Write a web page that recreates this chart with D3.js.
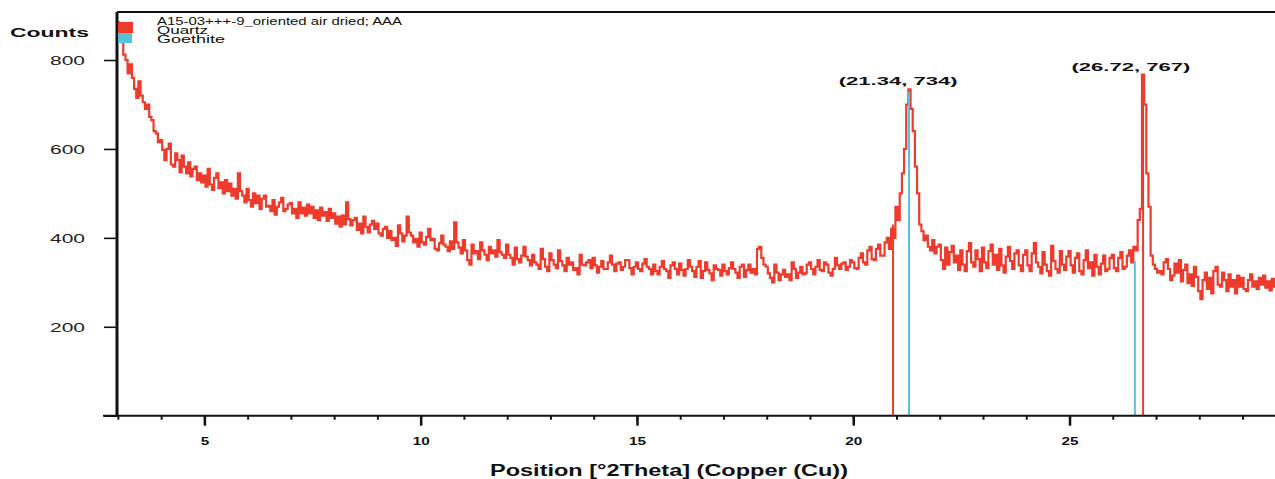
<!DOCTYPE html>
<html>
<head>
<meta charset="utf-8">
<script src="https://cdn.jsdelivr.net/npm/d3@7"></script>
<style>
  html, body { margin: 0; padding: 0; background: #fff; }
  svg { display: block; }
  text { font-family: "Liberation Sans", Arial, sans-serif; fill: #111; }
</style>
</head>
<body>
<svg id="chart" width="1275" height="479"></svg>
<script>
// ---------- data ----------
const startAngle = 3.0;      // first scan position (°2Theta)
const stepAngle = 0.05;      // scan step (°2Theta)
const counts = [
  885, 860, 840, 812, 800, 770, 790, 760, 735, 715, 752, 720, 705, 690, 700, 672, 665, 640, 635, 615,
  620, 598, 575, 600, 612, 565, 560, 590, 575, 548, 585, 560, 545, 570, 538, 555, 560, 530, 545, 525,
  540, 515, 555, 520, 508, 535, 545, 512, 525, 500, 530, 505, 522, 495, 510, 488, 545, 505, 495, 480,
  510, 485, 470, 500, 478, 495, 465, 488, 495, 470, 472, 460, 485, 452, 470, 480, 490, 460, 465, 475,
  478, 455, 465, 445, 480, 455, 468, 450, 475, 455, 470, 445, 462, 440, 468, 450, 458, 438, 465, 445,
  455, 432, 448, 425, 450, 430, 480, 442, 428, 440, 445, 418, 432, 410, 448, 425, 412, 430, 438, 420,
  432, 410, 405, 420, 425, 400, 415, 395, 400, 382, 428, 410, 392, 405, 448, 412, 405, 390, 398, 380,
  412, 390, 385, 402, 420, 395, 398, 375, 372, 388, 405, 385, 380, 370, 392, 375, 435, 390, 378, 365,
  395, 372, 350, 340, 385, 365, 370, 352, 390, 372, 362, 350, 380, 365, 372, 358, 395, 368, 362, 355,
  385, 362, 355, 340, 378, 352, 345, 360, 380, 358, 350, 338, 362, 345, 340, 330, 375, 352, 335, 325,
  365, 350, 340, 332, 372, 348, 338, 325, 355, 340, 345, 328, 332, 318, 362, 340, 338, 345, 350, 332,
  355, 338, 322, 335, 348, 330, 330, 345, 360, 340, 325, 342, 345, 328, 335, 350, 350, 332, 318, 335,
  345, 330, 325, 342, 352, 335, 330, 318, 340, 325, 318, 335, 348, 330, 325, 310, 338, 345, 330, 318,
  342, 328, 315, 330, 350, 335, 325, 312, 335, 348, 310, 325, 345, 328, 320, 305, 338, 330, 328, 315,
  340, 325, 318, 332, 345, 330, 322, 310, 335, 340, 312, 328, 340, 322, 330, 318, 375, 380, 355, 340,
  335, 320, 310, 300, 340, 322, 305, 318, 328, 312, 318, 305, 345, 330, 310, 322, 335, 318, 320, 340,
  345, 330, 318, 335, 350, 328, 325, 345, 340, 322, 315, 330, 355, 338, 330, 342, 345, 328, 335, 350,
  345, 332, 330, 355, 365, 345, 340, 372, 380, 352, 350, 375, 385, 360, 360, 390, 400, 375, 420, 400,
  470, 440, 500, 545, 600, 700, 734, 690, 640, 560, 500, 430, 415, 395, 405, 380, 372, 395, 365, 380,
  385, 350, 330, 378, 340, 368, 382, 345, 360, 328, 372, 340, 325, 370, 388, 345, 335, 372, 352, 325,
  378, 345, 332, 370, 385, 340, 362, 328, 375, 338, 322, 358, 380, 348, 330, 365, 372, 338, 325, 362,
  372, 338, 325, 365, 388, 345, 335, 320, 368, 340, 325, 315, 382, 348, 330, 322, 370, 340, 328, 358,
  370, 338, 322, 355, 365, 325, 318, 350, 372, 332, 345, 315, 362, 335, 318, 342, 360, 325, 330, 355,
  362, 332, 325, 355, 368, 330, 335, 360, 372, 345, 380, 372, 440, 465, 767, 700, 545, 470, 360, 340,
  330, 322, 325, 318, 345, 352, 330, 305, 315, 342, 322, 350, 302, 328, 340, 298, 318, 292, 335, 312,
  280, 262, 305, 322, 285, 310, 275, 325, 335, 295, 290, 322, 305, 280, 318, 290, 305, 275, 315, 290,
  310, 285, 280, 305, 318, 290, 302, 285, 310, 295, 315, 288, 302, 282, 308, 290, 275, 262, 292, 280
];

// reference patterns (stick lines)
const quartzAngles = [20.92, 26.70];
const quartzCounts = [430, 767];
const goethiteAngles = [21.29, 26.51];
const goethiteCounts = [729, 348];

// peak annotations
const peakAngles = [21.34, 26.72];
const peakCounts = [734, 767];
const peakLabels = ["(21.34, 734)", "(26.72, 767)"];

// axes
const xTicks = [5, 10, 15, 20, 25];
const xMinorTicks = [3,4,5,6,7,8,9,10,11,12,13,14,15,16,17,18,19,20,21,22,23,24,25,26,27,28,29];
const yTicks = [0, 200, 400, 600, 800];
const xTitle = "Position [°2Theta] (Copper (Cu))";
const yTitle = "Counts";
const legendNames = ["A15-03+++-9_oriented air dried; AAA", "Quartz", "Goethite"];
const legendColors = ["#ee3b2b", "#ee3b2b", "#55c2d6"];

(function () {
// ---------- layout ----------
const svg = d3.select("#chart");
const pL = 117, pR = 1275, pT = 12, pB = 415.7;
const red = "#ee3b2b", cyan = "#55c2d6";

const x = d3.scaleLinear().domain([2.98, 29.75]).range([pL, pR]);
const y = d3.scaleLinear().domain([0, 908]).range([pB, pT]);

const data = counts.map((c, i) => ({ t: startAngle + i * stepAngle, c }));

svg.append("defs").append("clipPath").attr("id", "clip")
  .append("rect").attr("x", pL).attr("y", pT).attr("width", pR - pL).attr("height", pB - pT);

const plot = svg.append("g").attr("clip-path", "url(#clip)");

// stick patterns
plot.selectAll("line.quartz").data(quartzAngles).join("line")
  .attr("x1", d => x(d)).attr("x2", d => x(d))
  .attr("y1", y(0)).attr("y2", (d, i) => y(quartzCounts[i]))
  .attr("stroke", red).attr("stroke-width", 2);

// data line
const line = d3.line().x(d => x(d.t)).y(d => y(d.c)).curve(d3.curveStep);
plot.append("path").datum(data)
  .attr("d", line).attr("fill", "none")
  .attr("stroke", red).attr("stroke-width", 2.2);

plot.selectAll("line.goe").data(goethiteAngles).join("line")
  .attr("x1", d => x(d)).attr("x2", d => x(d))
  .attr("y1", y(0)).attr("y2", (d, i) => y(goethiteCounts[i]))
  .attr("stroke", cyan).attr("stroke-width", 2);

// ---------- axes ----------
const yAxis = d3.axisLeft(y).tickValues(yTicks).tickSize(13).tickFormat(d => d === 0 ? "" : d);
const gy = svg.append("g").attr("transform", `translate(${pL},0)`).call(yAxis);
gy.select(".domain").remove();
gy.selectAll(".tick line").attr("stroke", "#111").attr("stroke-width", 1.6);
gy.selectAll(".tick text")
  .attr("x", -32).attr("dy", "0.35em")
  .style("font-size", "13px").style("fill", "#222")
  .attr("textLength", 35).attr("lengthAdjust", "spacingAndGlyphs");

const xMinor = d3.axisBottom(x).tickValues(xMinorTicks).tickSize(4).tickFormat("");
const gxm = svg.append("g").attr("transform", `translate(0,${pB})`).call(xMinor);
gxm.select(".domain").remove();
gxm.selectAll(".tick line").attr("stroke", "#111").attr("stroke-width", 2);

const xAxis = d3.axisBottom(x).tickValues(xTicks).tickSize(10).tickPadding(12);
const gx = svg.append("g").attr("transform", `translate(0,${pB})`).call(xAxis);
gx.select(".domain").remove();
gx.selectAll(".tick line").attr("stroke", "#111").attr("stroke-width", 2.5);
gx.selectAll(".tick text")
  .style("font-size", "10px").style("font-weight", "bold")
  .attr("textLength", d => String(d).length * 8.5).attr("lengthAdjust", "spacingAndGlyphs");

// frame lines
svg.append("line").attr("x1", 103).attr("x2", pR).attr("y1", pB).attr("y2", pB)
  .attr("stroke", "#111").attr("stroke-width", 2);
svg.append("line").attr("x1", pL).attr("x2", pL).attr("y1", pT).attr("y2", pB + 1)
  .attr("stroke", "#111").attr("stroke-width", 3);
svg.append("line").attr("x1", pL).attr("x2", pR).attr("y1", pT).attr("y2", pT)
  .attr("stroke", "#111").attr("stroke-width", 2);

// titles
svg.append("text").text(yTitle)
  .attr("x", 10).attr("y", 37)
  .style("font-size", "13px").style("font-weight", "bold")
  .attr("textLength", 79).attr("lengthAdjust", "spacingAndGlyphs");

svg.append("text").text(xTitle)
  .attr("x", 490).attr("y", 476)
  .style("font-size", "16px").style("font-weight", "bold")
  .attr("textLength", 358).attr("lengthAdjust", "spacingAndGlyphs");

// peak labels
svg.selectAll("text.peak").data(peakAngles).join("text")
  .attr("class", "peak")
  .text((d, i) => peakLabels[i])
  .attr("x", d => x(d) - 13).attr("y", (d, i) => y(peakCounts[i]) - 4)
  .attr("text-anchor", "middle")
  .style("font-size", "11px").style("font-weight", "bold")
  .attr("textLength", 119).attr("lengthAdjust", "spacingAndGlyphs");

// legend
const legendY = [25, 34, 43];
const legendW = [245, 51, 68];
svg.append("rect").attr("x", 118).attr("y", 22).attr("width", 15).attr("height", 11).attr("fill", legendColors[1]);
svg.append("rect").attr("x", 118).attr("y", 33).attr("width", 14).attr("height", 10).attr("fill", legendColors[2]);
svg.selectAll("text.leg").data(legendNames).join("text")
  .attr("class", "leg")
  .text(d => d)
  .attr("x", 157).attr("y", (d, i) => legendY[i])
  .style("font-size", "10px")
  .attr("textLength", (d, i) => legendW[i]).attr("lengthAdjust", "spacingAndGlyphs");
})();
</script>
</body>
</html>
